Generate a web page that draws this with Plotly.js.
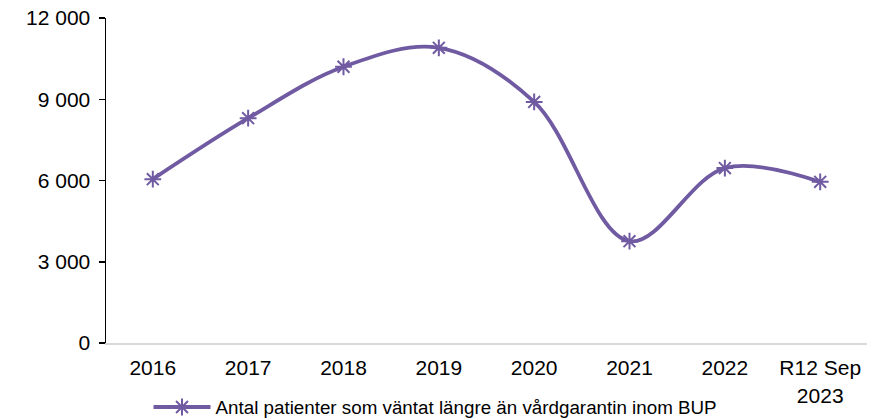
<!DOCTYPE html>
<html>
<head>
<meta charset="utf-8">
<script src="https://cdn.plot.ly/plotly-3.0.1.min.js"></script>
<style>html,body{margin:0;padding:0;background:#fff;}#chart{width:871px;height:419px;}</style>
</head>
<body>
<div id="chart"></div>
<script>
const categories = ["2016", "2017", "2018", "2019", "2020", "2021", "2022", "R12 Sep<br>2023"];
const seriesName = "Antal patienter som väntat längre än vårdgarantin inom BUP";
const values = [6050, 8300, 10200, 10900, 8900, 3760, 6460, 5950];
const yTickVals = [0, 3000, 6000, 9000, 12000];
const yTickText = ["0", "3 000", "6 000", "9 000", "12 000"];

const purple = "rgb(112,90,162)";
const font = {family: "Liberation Sans, Arial, sans-serif", size: 21, color: "#000"};

const trace = {
  x: categories,
  y: values,
  type: "scatter",
  mode: "lines+markers",
  name: seriesName,
  line: {color: purple, width: 3.8, shape: "spline", smoothing: 1},
  marker: {symbol: "asterisk-open", size: 14, color: purple, line: {color: purple, width: 2}}
};

const layout = {
  width: 871, height: 419,
  margin: {l: 106, r: 4, t: 18, b: 76},
  paper_bgcolor: "#fff", plot_bgcolor: "#fff",
  font: font,
  showlegend: true,
  legend: {
    orientation: "h", xref: "container", yref: "container",
    x: 0.5, xanchor: "center", y: 0.028, yanchor: "middle",
    font: {family: font.family, size: 18.8, color: "#000"},
    itemwidth: 57, bgcolor: "rgba(0,0,0,0)"
  },
  xaxis: {
    type: "category",
    showline: true, linecolor: "#d9d9d9", linewidth: 2,
    showgrid: false, zeroline: false,
    ticks: "", ticklabelstandoff: 5,
    tickfont: font, fixedrange: true
  },
  yaxis: {
    range: [0, 12000],
    tickvals: yTickVals, ticktext: yTickText,
    showline: true, linecolor: "#000", linewidth: 1.5,
    ticks: "outside", ticklen: 6, tickwidth: 1.5, tickcolor: "#000",
    showgrid: false, zeroline: false,
    ticklabelstandoff: 4,
    tickfont: font, fixedrange: true
  }
};

Plotly.newPlot("chart", [trace], layout, {displayModeBar: false, staticPlot: true});
</script>
</body>
</html>
